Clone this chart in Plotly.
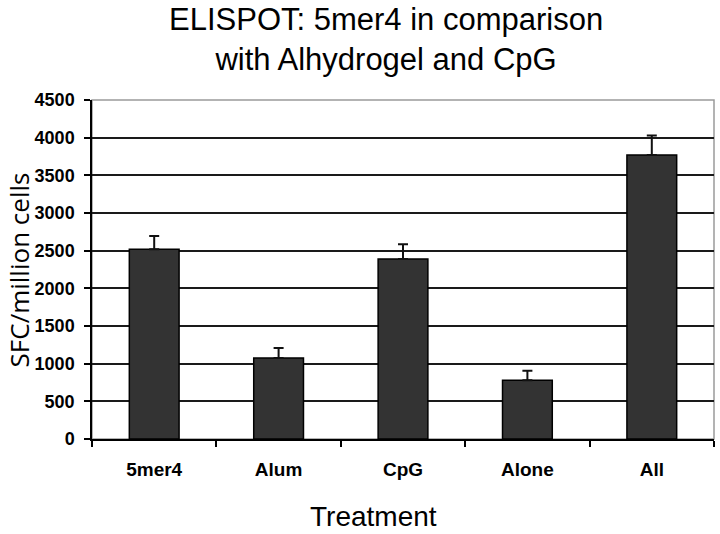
import plotly.graph_objects as go

categories = ["5mer4", "Alum", "CpG", "Alone", "All"]
sfc_values = [2520, 1075, 2390, 780, 3770]
sfc_errors = [175, 133, 195, 127, 260]
y_ticks = [0, 500, 1000, 1500, 2000, 2500, 3000, 3500, 4000, 4500]
title_text = "ELISPOT: 5mer4 in comparison<br>with Alhydrogel and CpG"
x_title = "Treatment"
y_title = "SFC/million cells"

fig = go.Figure()
fig.add_trace(go.Bar(
    x=categories, y=sfc_values, width=0.4,
    marker=dict(color="#333333", line=dict(color="#000000", width=1.5)),
    error_y=dict(type="data", array=sfc_errors, arrayminus=[0]*len(sfc_errors),
                 symmetric=False, color="#111111", thickness=2, width=5),
))

arial = "Liberation Sans, Arial"
fig.update_layout(
    width=720, height=534,
    margin=dict(l=92, r=6, t=100, b=95),
    paper_bgcolor="white", plot_bgcolor="white",
    showlegend=False,
    shapes=[dict(type="rect", xref="paper", yref="paper", x0=0, x1=1, y0=0, y1=1,
                 line=dict(color="#9a9a9a", width=1.5), layer="below")],
    annotations=[
        dict(text=title_text, xref="paper", yref="paper", x=0.4727, y=1.177,
             xanchor="center", yanchor="middle", showarrow=False,
             font=dict(family=arial, size=31, color="#000")),
        dict(text=x_title, xref="paper", yref="paper", x=0.453, y=-0.230,
             xanchor="center", yanchor="middle", showarrow=False,
             font=dict(family=arial, size=28, color="#000")),
        dict(text=y_title, xref="paper", yref="paper", x=-0.1175, y=0.5,
             xanchor="center", yanchor="middle", showarrow=False, textangle=-90,
             font=dict(family="Open Sans", size=26, color="#000")),
    ],
)

fig.update_xaxes(
    type="category", tickson="boundaries", ticks="outside", ticklen=6, tickwidth=1.5,
    tickcolor="#000", showline=True, linecolor="#000", linewidth=1.5, mirror=False,
    showgrid=False, automargin=False, ticklabelstandoff=12,
    tickfont=dict(family=arial, size=19, color="#000", weight="bold"),
)
fig.update_yaxes(
    range=[0, 4500], tickvals=y_ticks, ticks="outside", ticklen=6, tickwidth=1.5,
    tickcolor="#000", showline=True, linecolor="#000", linewidth=1.5,
    showgrid=True, gridcolor="#1a1a1a", gridwidth=1.5, zeroline=False,
    automargin=False, ticklabelstandoff=6,
    tickfont=dict(family=arial, size=18, color="#000", weight="bold"),
)

fig.write_html("out.html", config={"displayModeBar": False},
               post_script="document.body.style.margin='0px';")
